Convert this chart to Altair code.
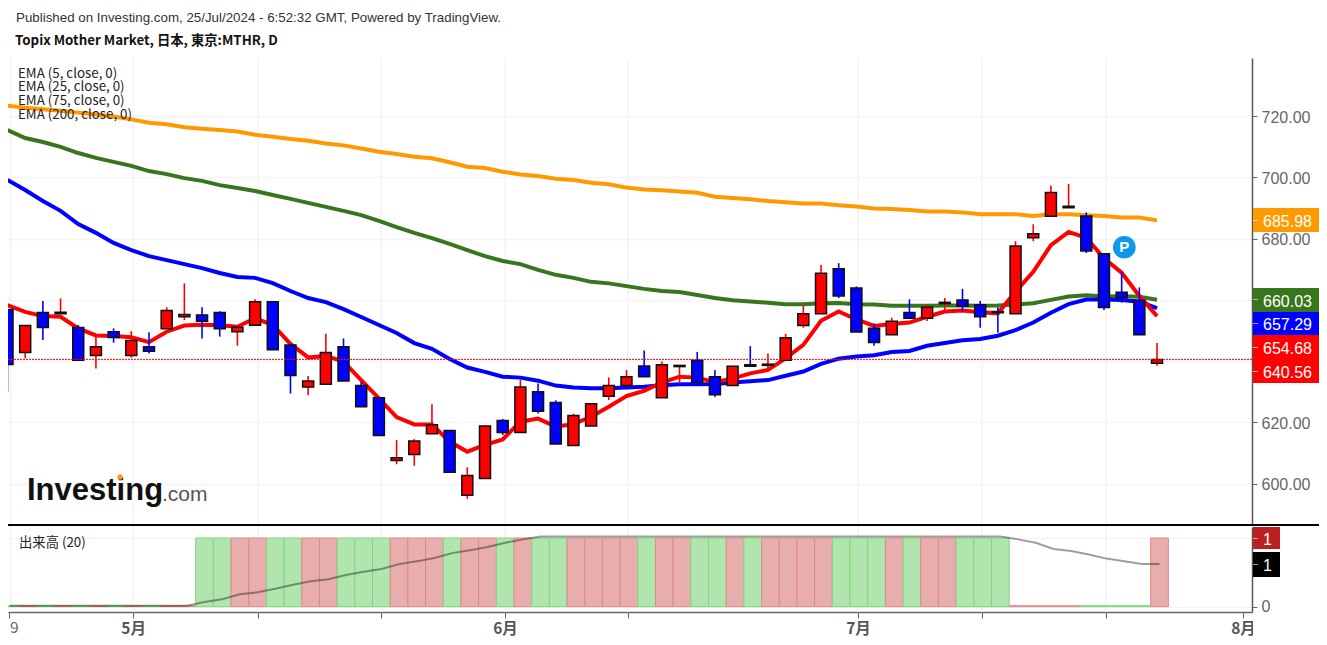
import altair as alt
import pandas as pd

opens = [656.9,642.8,655.9,655.5,651.0,641.8,649.6,641.8,644.7,650.6,654.5,655.1,655.9,649.6,651.7,659.4,645.3,631.5,632.4,644.7,632.0,628.0,607.5,609.5,616.3,617.3,596.2,601.6,620.6,616.7,630.0,626.5,612.4,618.8,628.5,632.0,638.4,628.0,638.2,640.3,634.9,632.0,638.8,638.6,640.3,651.6,655.5,670.2,663.9,650.7,648.6,655.9,654.0,658.8,660.0,658.4,656.2,655.5,680.3,687.3,690.1,687.4,675.1,662.5,659.9,639.3]
closes = [638.9,651.6,651.0,656.0,640.3,644.7,647.7,646.7,643.2,656.5,655.2,653.0,650.6,651.1,659.4,643.7,635.3,633.5,642.8,633.5,625.1,615.7,608.4,613.9,619.2,603.7,602.6,618.8,616.7,631.5,623.6,612.9,622.2,626.1,632.0,634.9,634.9,638.8,638.6,633.0,629.0,638.3,638.3,639.0,647.6,655.5,668.7,661.3,649.5,646.1,653.0,654.0,657.6,659.2,657.9,654.5,655.8,677.6,681.6,695.1,690.6,676.0,657.5,660.7,648.6,640.56]
highs = [656.9,651.6,659.6,660.5,651.8,648.5,650.7,649.8,649.4,657.6,665.4,657.6,656.3,651.8,660.2,659.4,645.6,635.1,648.9,647.4,633.2,628.0,614.2,614.5,625.9,617.3,605.3,619.1,621.1,634.0,632.7,627.2,622.8,626.1,634.7,637.1,643.5,639.9,638.6,643.0,637.1,638.5,644.9,642.5,648.9,658.1,671.4,672.0,664.4,652.3,654.2,660.2,658.5,660.6,663.6,659.6,657.6,679.2,684.7,697.4,697.9,688.6,675.1,669.2,664.1,645.9]
lows = [629.8,640.9,646.9,655.5,640.3,637.6,646.0,641.1,642.5,650.6,653.4,647.4,648.0,645.0,651.7,643.7,629.4,628.8,632.4,633.5,625.1,615.7,606.3,605.8,616.3,603.7,595.0,601.6,615.8,616.7,622.9,612.9,612.4,618.8,627.3,632.0,634.9,628.0,632.7,633.0,628.3,632.0,638.3,637.6,640.3,650.9,655.5,660.6,649.5,645.0,648.6,654.0,653.1,656.5,656.2,650.9,649.3,655.5,679.2,687.3,690.1,675.3,656.7,659.1,648.6,638.5]

ema5 = [658.3,656.1,654.7,654.5,650.7,648.4,648.2,647.8,646.2,649.6,651.6,651.9,651.7,651.2,654.0,651.8,645.6,641.2,641.7,639.8,633.8,627.8,621.7,619.3,619.3,613.7,610.4,612.6,614.4,620.2,621.2,618.6,619.4,621.8,625.1,628.6,630.3,633.0,634.9,634.6,633.1,634.3,636.0,637.1,640.9,645.3,653.2,656.2,653.6,651.5,652.1,652.6,654.5,656.2,656.5,656.0,655.6,662.7,669.2,677.9,682.2,680.3,673.6,668.9,661.3,654.68]
ema25 = [699.2,695.9,692.3,689.1,684.8,681.9,678.6,676.3,674.3,673.0,671.7,670.4,668.8,667.5,667.2,665.5,662.9,660.6,659.3,657.0,654.4,651.8,649.2,645.9,644.0,640.7,637.9,636.5,634.9,634.6,633.6,632.0,631.4,631.1,631.1,631.4,631.6,632.1,632.4,632.4,632.5,633.0,633.4,633.8,635.2,636.6,639.1,640.8,641.5,641.9,643.0,643.3,645.0,645.9,646.8,647.2,648.3,650.1,652.6,655.8,658.6,660.1,660.1,660.0,659.4,657.29]
ema75 = [715.5,712.9,711.6,710.0,708.0,706.4,705.1,703.8,702.1,701.1,699.8,698.9,697.5,696.6,695.6,694.3,693.0,691.7,690.4,689.1,687.7,685.8,683.8,681.9,680.2,678.3,676.3,674.3,672.7,671.7,669.8,668.2,667.2,665.9,665.4,664.5,663.6,662.9,662.6,661.6,660.6,659.9,659.5,659.1,658.6,658.6,658.9,659.0,658.6,658.5,658.1,658.1,658.1,658.2,658.2,658.1,658.2,658.5,658.9,660.0,661.1,661.5,661.1,661.2,661.0,660.03]
ema200 = [723.5,722.8,722.3,721.8,721.2,720.6,719.9,719.0,717.9,717.4,716.4,715.9,715.5,715.0,714.0,713.3,712.6,712.0,711.1,710.5,709.5,708.4,707.7,706.8,706.3,705.0,703.5,703.1,701.9,701.0,700.5,699.6,699.2,698.3,697.8,696.7,696.1,695.8,695.4,695.0,693.7,693.3,692.9,692.3,691.9,691.5,691.5,690.9,690.5,689.9,689.7,689.4,688.9,688.9,688.6,688.0,688.0,688.0,687.4,688.0,688.0,687.7,687.4,686.9,686.9,685.98]

volume = [0.015]*11 + [1.0]*46 + [0.015]*8 + [1.0]
vol_ma = [0.015]*11 + [0.07,0.11,0.18,0.21,0.26,0.32,0.37,0.40,0.46,0.51,0.55,0.62,0.66,0.71,0.78,0.82,0.87,0.93,0.98] + [1.02]*27 + [0.98,0.93,0.84,0.81,0.76,0.70,0.66,0.62,0.62]

price_ticks = [600, 620, 640, 660, 680, 700, 720]
vol_ticks = [0, 1]
x_ticks = [0.10, 7.10, 14.17, 21.12, 28.13, 35.08, 48.09, 55.10, 62.11, 69.86]
grid_ticks = [0.18, 7.10, 14.17, 21.12, 28.13, 35.08, 48.09, 55.10, 62.11]

n = len(closes)
df = pd.DataFrame({"i": list(range(n)), "open": opens, "close": closes, "high": highs, "low": lows,
                   "ema5": ema5, "ema25": ema25, "ema75": ema75, "ema200": ema200,
                   "vol": volume, "ma": vol_ma})
df["dir"] = ["up" if c >= o else "down" for o, c in zip(opens, closes)]
df["x0"] = df["i"] - 0.36
df["x1"] = df["i"] + 0.64
df["xm"] = df["i"] + 0.14

xs = alt.Scale(domain=[0.028, 70.37], range=[0, 1244], nice=False, zero=False, padding=0)
ps = alt.Scale(domain=[586.44, 739.05], range=[517, 50], nice=False, zero=False, padding=0)
vs = alt.Scale(domain=[-0.077, 1.16], range=[604, 519], nice=False, zero=False, padding=0)


def X(f="i"):
    return alt.X(f + ":Q", scale=xs, axis=None, title=None)


def P(f):
    return alt.Y(f + ":Q", scale=ps, axis=None, title=None)


def V(f):
    return alt.Y(f + ":Q", scale=vs, axis=None, title=None)


def txt(s, x, y, size=13.33, color="#333333", font="Liberation Sans", weight="normal", align="left"):
    return alt.Chart(pd.DataFrame({"t": [s]})).mark_text(
        font=font, fontSize=size, color=color, fontWeight=weight, align=align, baseline="middle"
    ).encode(text="t:N", x=alt.value(x - 8), y=alt.value(y - 8))


def box(x1, x2, y1, y2, color, op=1):
    return alt.Chart(pd.DataFrame({"a": [0]})).mark_rect(color=color, opacity=op).encode(
        x=alt.value(x1 - 8), x2=alt.value(x2 - 8), y=alt.value(y1 - 8), y2=alt.value(y2 - 8))


axis_host = alt.Chart(df).mark_point(opacity=0).encode(
    x=alt.X("i:Q", scale=xs, title=None, axis=alt.Axis(
        values=x_ticks, grid=False, domainColor="#666666", domainWidth=1.5, tickColor="#666666", tickSize=6,
        labelFont="Noto Sans CJK JP", labelFontSize=15.5, labelColor="#555555", labelPadding=3,
        labelFontWeight="bold",
        labelExpr="datum.value<1?'':datum.value<10?'5月':datum.value<30&&datum.value>28?'6月':datum.value>48&&datum.value<49?'7月':datum.value>69?'8月':''",
        labelOverlap=False, labelFlush=False)),
    y=alt.Y("close:Q", scale=ps, title=None, axis=alt.Axis(
        orient="right", values=price_ticks, format=".2f", grid=True, gridColor="#f5f2f5", gridWidth=1.5,
        domainColor="#555555", domainWidth=1.5, tickColor="#666666", tickSize=5, labelOffset=1,
        labelFont="Liberation Sans", labelFontSize=16, labelColor="#666666", labelPadding=4)),
)
vol_axis_host = alt.Chart(df).mark_point(opacity=0).encode(
    x=X(),
    y=alt.Y("vol:Q", scale=vs, title=None, axis=alt.Axis(
        orient="right", values=vol_ticks, format="d", grid=True, gridColor="#f3f3f3", gridWidth=1,
        domainColor="#555555", domainWidth=1.5, tickColor="#666666", tickSize=5,
        labelFont="Liberation Sans", labelFontSize=16, labelColor="#666666", labelPadding=4)),
)

vgrid = alt.Chart(pd.DataFrame({"t": grid_ticks})).mark_rule(color="#f5f2f5", strokeWidth=1.5).encode(
    x=X("t"), y=alt.value(50), y2=alt.value(604))

vol_bars = alt.Chart(df).mark_rect(strokeWidth=1, clip=True).encode(
    x=X("x0"), x2="x1:Q", y=V("vol"), y2=alt.datum(0),
    fill=alt.Fill("dir:N", legend=None, scale=alt.Scale(domain=["up", "down"], range=["#e8aeae", "#b0e6ae"])),
    stroke=alt.Stroke("dir:N", legend=None, scale=alt.Scale(domain=["up", "down"], range=["#e08888", "#80d67e"])),
)
vol_line = alt.Chart(df).mark_line(color="#000000", opacity=0.38, strokeWidth=2).encode(x=X("xm"), y=V("ma"))


def ema(f, color):
    return alt.Chart(df).mark_line(color=color, strokeWidth=4, clip=True).encode(x=X(), y=P(f))


cs = alt.Scale(domain=["up", "down"], range=["#ff0000", "#0000ff"])
wicks = alt.Chart(df).mark_rule(strokeWidth=1.6, clip=True).encode(
    x=X(), y=P("high"), y2="low:Q", color=alt.Color("dir:N", scale=cs, legend=None))
bodies = alt.Chart(df).mark_bar(size=11, stroke="#111111", strokeWidth=1.5, clip=True).encode(
    x=X(), y=P("open"), y2="close:Q", color=alt.Color("dir:N", scale=cs, legend=None))

last_line = alt.Chart(pd.DataFrame({"p": [closes[-1]]})).mark_rule(
    color="#ff0000", strokeWidth=1, strokeDash=[2, 1]).encode(y=P("p"))

p_marker = alt.Chart(pd.DataFrame({"i": [63.15], "p": [677.2], "t": ["P"]}))
p_dot = p_marker.mark_point(filled=True, size=515, color="#0f97ea", opacity=1).encode(x=X(), y=P("p"))
p_txt = p_marker.mark_text(color="#ffffff", fontSize=15, fontWeight="bold", font="Liberation Sans").encode(
    x=X(), y=P("p"), text="t:N")

separator = alt.Chart(pd.DataFrame({"a": [0]})).mark_rule(color="#000000", strokeWidth=2).encode(
    x=alt.value(0), x2=alt.value(1312), y=alt.value(517))

labels = [
    box(1253, 1319, 208, 232, "#ff9900"), box(1253, 1258, 220, 221, "#ffffff", 0.6), txt("685.98", 1263, 221.5, 16, "#ffffff"),
    box(1253, 1319, 288, 312, "#38761d"), box(1253, 1258, 299, 300, "#ffffff", 0.6), txt("660.03", 1263, 301.5, 16, "#ffffff"),
    box(1253, 1319, 312, 335, "#0000ff"), box(1253, 1258, 323, 324, "#ffffff", 0.6), txt("657.29", 1263, 325, 16, "#ffffff"),
    box(1253, 1319, 335, 359, "#ff0000"), box(1253, 1258, 347, 348, "#ffffff", 0.6), txt("654.68", 1263, 349, 16, "#ffffff"),
    box(1253, 1319, 359, 383, "#ff0000"), box(1253, 1258, 371, 372, "#ffffff", 0.6), txt("640.56", 1263, 373, 16, "#ffffff"),
    box(1253, 1280, 527, 549, "#bb2020"), box(1253, 1258, 538, 539, "#ffffff", 0.6), txt("1", 1263, 539.5, 16, "#ffffff"),
    box(1253, 1280, 552, 577, "#000000"), box(1253, 1258, 564, 565, "#ffffff", 0.6), txt("1", 1263, 566, 16, "#ffffff"),
    box(1253, 1319, 614, 640, "#ffffff"),
]

cjk = "Noto Sans CJK JP"
logo_dot = alt.Chart(pd.DataFrame({"a": [0]})).mark_point(filled=True, size=30, color="#f39c1f", opacity=1).encode(
    x=alt.value(112), y=alt.value(469))
texts = [
    txt("Published on Investing.com, 25/Jul/2024 - 6:52:32 GMT, Powered by TradingView.", 16, 18, 13.33),
    txt("Topix Mother Market, 日本, 東京:MTHR, D", 15, 41, 13.33, "#111111", cjk, "bold"),
    txt("EMA (5, close, 0)", 18, 74, 13.33, "#222222", cjk),
    txt("EMA (25, close, 0)", 18, 87, 13.33, "#222222", cjk),
    txt("EMA (75, close, 0)", 18, 101, 13.33, "#222222", cjk),
    txt("EMA (200, close, 0)", 18, 115, 13.33, "#222222", cjk),
    txt("出来高 (20)", 19, 543, 13.33, "#222222", cjk),
    txt("Investing", 27, 491, 31, "#111111", "Liberation Sans", "bold"),
    logo_dot,
    txt(".com", 162, 495, 21, "#555555"),
    txt("9", 10, 628, 15.5, "#666666", cjk),
]

chart = alt.layer(
    axis_host, vol_axis_host, vgrid, vol_bars, vol_line,
    ema("ema200", "#ff9900"), ema("ema75", "#38761d"), ema("ema25", "#0000ff"), ema("ema5", "#ff0000"),
    wicks, bodies, last_line, p_dot, p_txt, separator, *texts, *labels,
).resolve_scale(y="independent", color="independent", fill="independent", stroke="independent").resolve_axis(
    x="independent"
).properties(
    width=1244, height=604,
    autosize=alt.AutoSizeParams(type="none"),
    padding={"left": 0, "top": 0, "right": 67, "bottom": 25},
    background="#ffffff",
).configure_view(stroke=None)

chart.save("out.html", embed_options={"renderer": "svg", "actions": False})
